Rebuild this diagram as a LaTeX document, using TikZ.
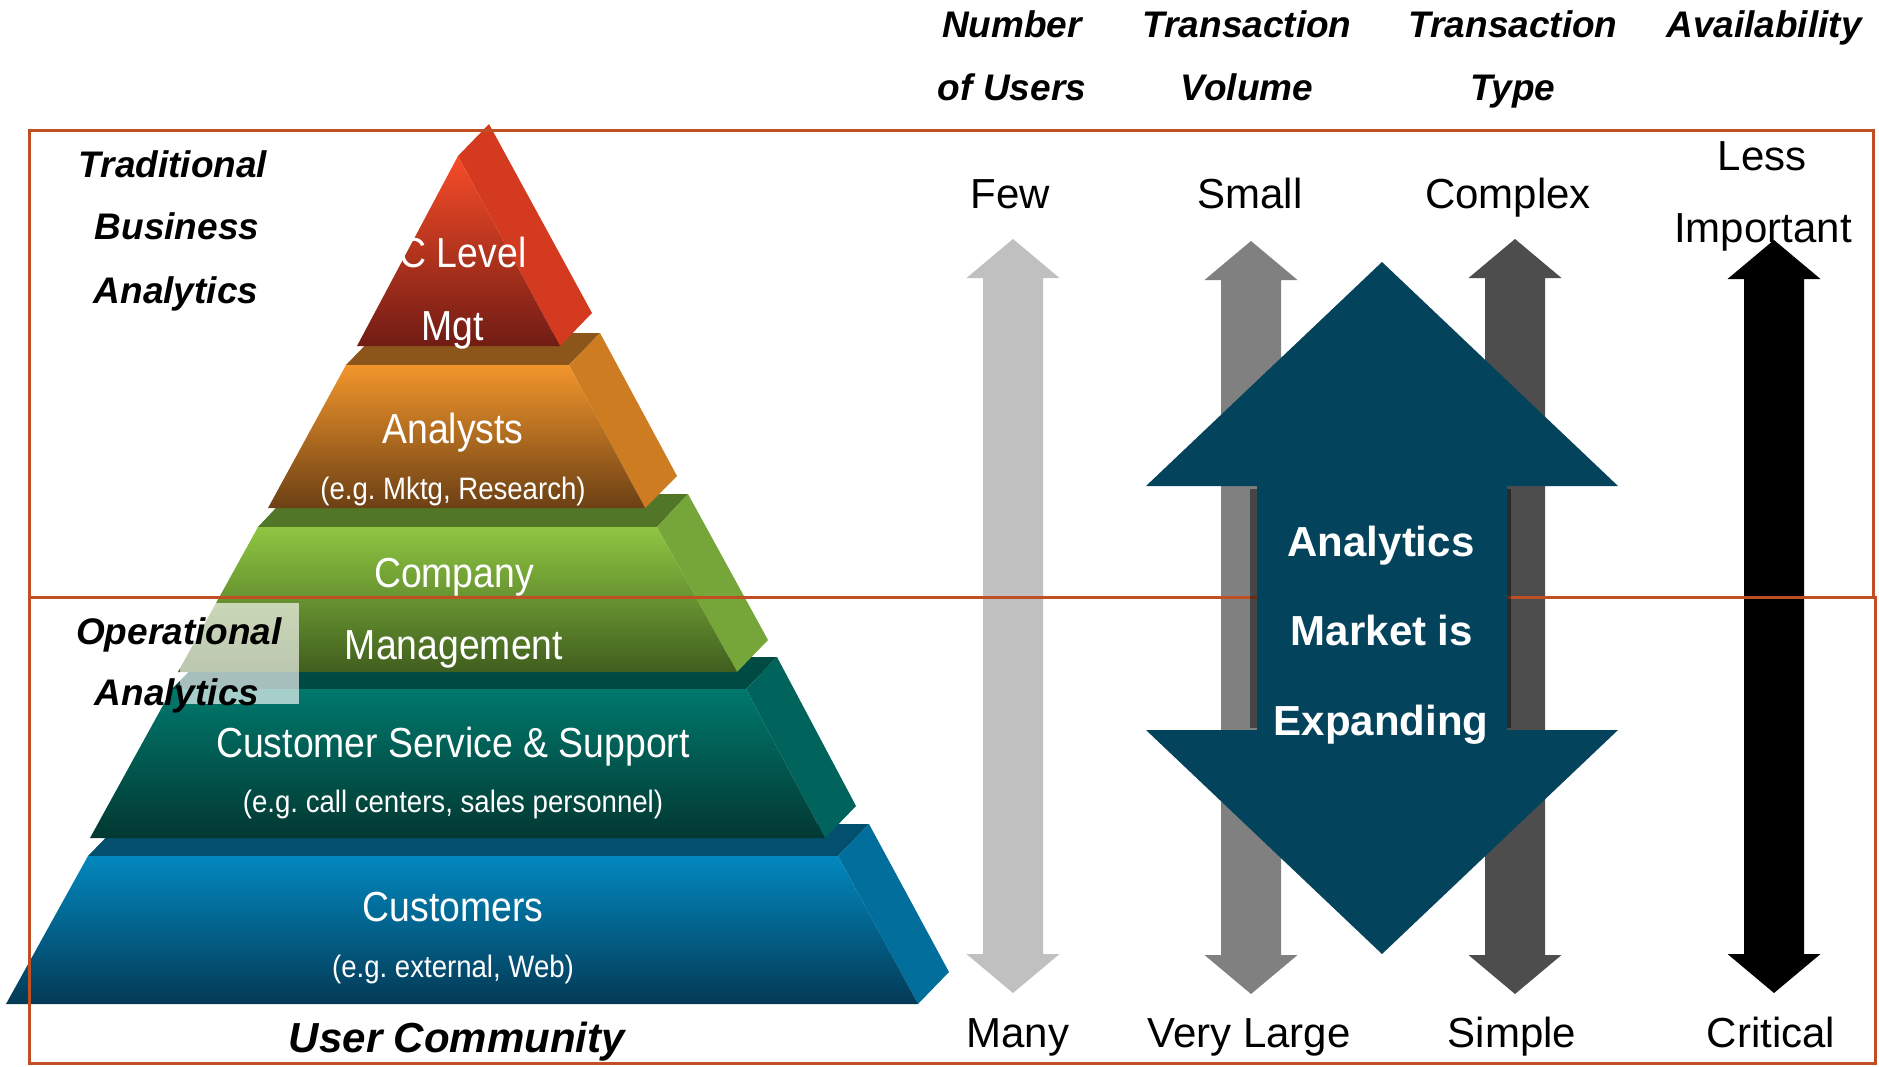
\documentclass[tikz,border=0pt]{standalone}
\usepackage{fontspec}
\setmainfont{Liberation Sans}
\newfontfamily\narrowfont[FakeStretch=0.89]{Liberation Sans}
\frenchspacing
\definecolor{boxc}{RGB}{192,80,36}
\definecolor{bigarrow}{RGB}{3,67,92}
\definecolor{lgray}{RGB}{192,192,192}
\definecolor{mgray}{RGB}{128,128,128}
\definecolor{dgray}{RGB}{77,77,77}
% pyramid colours
\definecolor{redT}{RGB}{247,76,40}\definecolor{redB}{RGB}{112,28,20}\definecolor{redS}{RGB}{212,58,32}
\definecolor{orT}{RGB}{242,150,44}\definecolor{orB}{RGB}{108,64,20}\definecolor{orS}{RGB}{206,124,34}\definecolor{orF}{RGB}{140,86,26}
\definecolor{grT}{RGB}{142,198,66}\definecolor{grB}{RGB}{64,94,30}\definecolor{grS}{RGB}{118,166,58}\definecolor{grF}{RGB}{82,118,40}
\definecolor{teT}{RGB}{0,120,108}\definecolor{teB}{RGB}{2,56,50}\definecolor{teS}{RGB}{0,100,92}\definecolor{teF}{RGB}{0,74,68}
\definecolor{blT}{RGB}{2,136,190}\definecolor{blB}{RGB}{3,58,86}\definecolor{blS}{RGB}{2,110,156}\definecolor{blF}{RGB}{3,80,110}
\tikzset{
  lbl/.style={font=\fontsize{37}{44}\selectfont\bfseries\itshape, text=black, inner sep=0, anchor=base},
  val/.style={font=\fontsize{42}{50}\selectfont, text=black, inner sep=0, anchor=base},
  pyr/.style={font=\narrowfont\fontsize{42}{50}\selectfont, text=white, inner sep=0, anchor=base},
  pyrsub/.style={font=\narrowfont\fontsize{31}{37}\selectfont, text=white, inner sep=0, anchor=base},
  big/.style={font=\fontsize{42}{50}\selectfont\bfseries, text=white, inner sep=0, anchor=base},
  boxline/.style={draw=boxc, line width=3pt},
}
\newcommand\dblarrow[4]{%
  \fill[#4] ({#1},{#2}) -- ({#1+46.5},{#2+39}) -- ({#1+30},{#2+39}) -- ({#1+30},{#3-39})
    -- ({#1+46.5},{#3-39}) -- ({#1},{#3}) -- ({#1-46.5},{#3-39}) -- ({#1-30},{#3-39})
    -- ({#1-30},{#2+39}) -- ({#1-46.5},{#2+39}) -- cycle;}
\begin{document}
\begin{tikzpicture}[x=1pt,y=-1pt]
\useasboundingbox[fill=white] (0,0) rectangle (1879,1066);

% ---------------- pyramid ----------------
% blue layer
\fill[blF] (88,856) -- (838,856) -- (869,824) -- (119,824) -- cycle;
\fill[blS] (838,856) -- (869,824) -- (949,972) -- (918,1004) -- cycle;
\shade[top color=blT, bottom color=blB] (6,1004) -- (88,856) -- (838,856) -- (918,1004) -- cycle;
% teal layer
\fill[teF] (172,689) -- (746,689) -- (777,657) -- (203,657) -- cycle;
\fill[teS] (746,689) -- (777,657) -- (856,806) -- (825,838) -- cycle;
\shade[top color=teT, bottom color=teB] (90,838) -- (172,689) -- (746,689) -- (825,838) -- cycle;
% green layer
\fill[grF] (258,527) -- (657,527) -- (688,494) -- (289,494) -- cycle;
\fill[grS] (657,527) -- (688,494) -- (768,640) -- (737,672) -- cycle;
\shade[top color=grT, bottom color=grB] (178,672) -- (258,527) -- (657,527) -- (737,672) -- cycle;
% orange layer
\fill[orF] (346,365) -- (569,365) -- (600,333) -- (377,333) -- cycle;
\fill[orS] (569,365) -- (600,333) -- (677,476) -- (645,508) -- cycle;
\shade[top color=orT, bottom color=orB] (268,508) -- (346,365) -- (569,365) -- (645,508) -- cycle;
% red layer
\fill[redS] (458,156) -- (489,124) -- (592,313) -- (560,346) -- cycle;
\shade[top color=redT, bottom color=redB] (357,346) -- (458,156) -- (560,346) -- cycle;

% translucent patch behind "Operational Analytics"
\fill[white, fill opacity=0.65] (180,603) rectangle (299,704);

% pyramid texts
\node[pyr] (clevel) at (463,267) {C Level};
\node[pyr] (mgt) at (453,340) {Mgt};
\node[pyr] (analysts) at (453,443) {Analysts};
\node[pyrsub] (analystsx) at (453,499) {(e.g. Mktg, Research)};
\node[pyr] (company) at (454,587) {Company};
\node[pyr] (mgmt) at (454,659) {Management};
\node[pyr] (css) at (453,757) {Customer Service \& Support};
\node[pyrsub] (cssx) at (453,812) {(e.g. call centers, sales personnel)};
\node[pyr] (cust) at (453,921) {Customers};
\node[pyrsub] (custx) at (453,977) {(e.g. external, Web)};

% ---------------- thin double arrows ----------------
\dblarrow{1013}{239}{993}{lgray}
\dblarrow{1251}{241}{994}{mgray}
\dblarrow{1515}{239}{994}{dgray}
\dblarrow{1774}{240}{993}{black}

% ---------------- boxes ----------------
\draw[boxline] (29,130) rectangle (1873,597);
\draw[boxline] (29,597) rectangle (1875,1063);

% ---------------- big arrow ----------------
% soft shadow along the shaft sides
\fill[black, opacity=0.45] (1250,489) rectangle (1258,728);
\fill[black, opacity=0.45] (1506,489) rectangle (1511,728);
\fill[bigarrow] (1382,262) -- (1618,486) -- (1507,486) -- (1507,730) -- (1618,730) -- (1382,954)
  -- (1146,730) -- (1257,730) -- (1257,486) -- (1146,486) -- cycle;
\node[big] (b1) at (1381,556) {Analytics};
\node[big] (b2) at (1382,645) {Market is};
\node[big] (b3) at (1381,735) {Expanding};

% ---------------- labels ----------------
\node[lbl] (trad1) at (173,177) {Traditional};
\node[lbl] (trad2) at (177,239) {Business};
\node[lbl] (trad3) at (176,303) {Analytics};
\node[lbl] (op1) at (179,644) {Operational};
\node[lbl] (op2) at (177,705) {Analytics};
\node[lbl, font=\fontsize{42}{50}\selectfont\bfseries\itshape] (uc) at (457,1052) {User Community};

\node[lbl] (h1a) at (1012,37) {Number};
\node[lbl] (h1b) at (1012,100) {of Users};
\node[lbl] (h2a) at (1247,37) {Transaction};
\node[lbl] (h2b) at (1247,100) {Volume};
\node[lbl] (h3a) at (1513,37) {Transaction};
\node[lbl] (h3b) at (1513,100) {Type};
\node[lbl] (h4a) at (1764,37) {Availability};

\node[val] (few) at (1010,208) {Few};
\node[val] (small) at (1250,208) {Small};
\node[val] (complex) at (1508,208) {Complex};
\node[val] (less) at (1762,170) {Less};
\node[val] (imp) at (1763,242) {Important};
\node[val] (many) at (1018,1047) {Many};
\node[val] (vlarge) at (1249,1047) {Very Large};
\node[val] (simple) at (1512,1047) {Simple};
\node[val] (crit) at (1771,1047) {Critical};
\end{tikzpicture}
\end{document}
